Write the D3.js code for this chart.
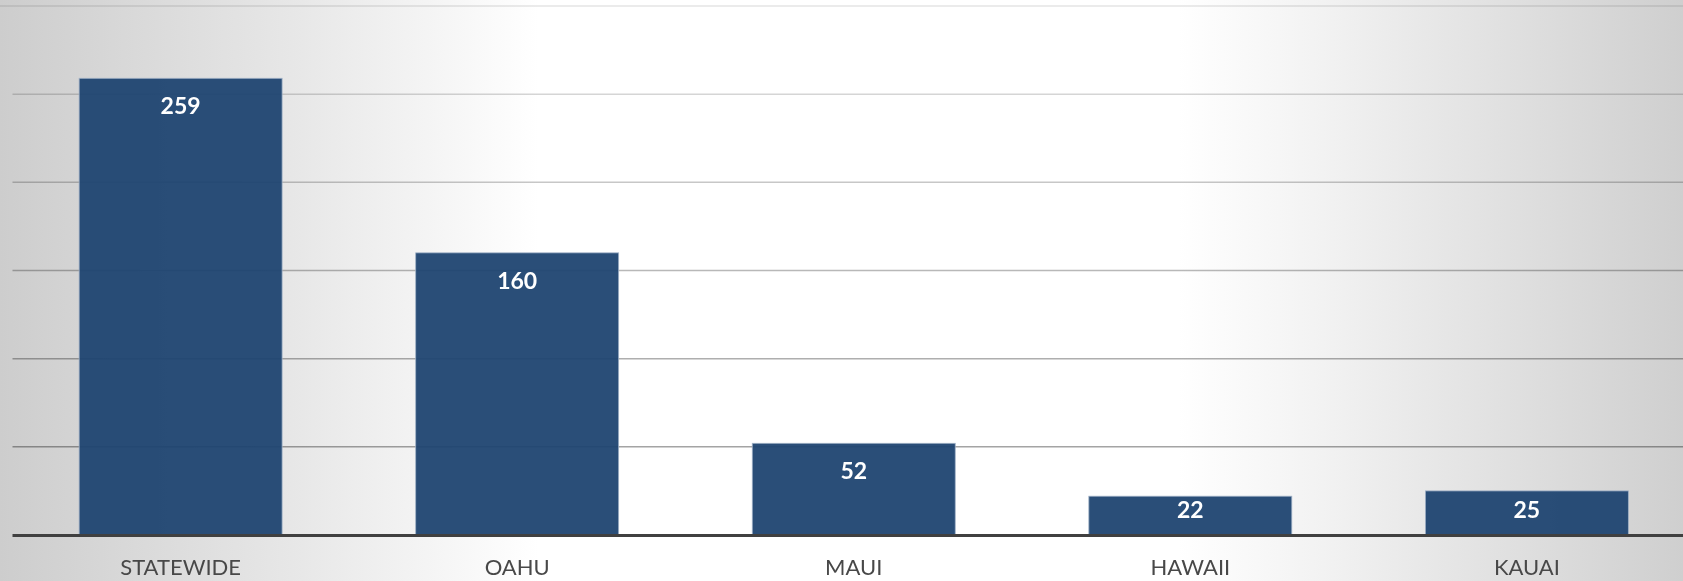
<!DOCTYPE html>
<html lang="en">
<head>
    <meta charset="UTF-8">
    <title>Counts by Island</title>
    <script src="https://d3js.org/d3.v7.min.js"></script>
    <style>
        body { margin: 0; overflow: hidden; }
        svg { display: block; }
    </style>
</head>
<body>

<div id="chart"></div>

<script>
    // chart data
    var categories = ["STATEWIDE", "OAHU", "MAUI", "HAWAII", "KAUAI"];
    var values = [259, 160, 52, 22, 25];
    var yTicks = [50, 100, 150, 200, 250, 300];

    var W = 1683, H = 581;
    var plot = {left: 12.5, right: 1695, top: 6, bottom: 535};

    var svg = d3.select("#chart")
        .append("svg")
        .attr("width", W)
        .attr("height", H);

    // background: white in the middle, grey toward the sides
    var defs = svg.append("defs");
    var grad = defs.append("linearGradient")
        .attr("id", "bg")
        .attr("x1", 0).attr("x2", 1).attr("y1", 0).attr("y2", 0);
    [[0, "#cdcdcd"], [0.18, "#e8e8e8"], [0.32, "#ffffff"], [0.70, "#ffffff"], [0.78, "#f3f3f3"], [1, "#cfcfcf"]]
        .forEach(function (s) {
            grad.append("stop").attr("offset", s[0]).attr("stop-color", s[1]);
        });

    svg.append("rect")
        .attr("width", W).attr("height", H)
        .attr("fill", "url(#bg)");

    var x = d3.scaleBand()
        .domain(categories)
        .range([plot.left, plot.right])
        .paddingInner(0.397)
        .paddingOuter(0.198);

    var y = d3.scaleLinear()
        .domain([0, 300])
        .range([plot.bottom, plot.top]);

    // gridlines, darker toward the bottom
    var gridColor = d3.scaleLinear().domain([300, 150, 50]).range(["#e4e4e4", "#b8b8b8", "#a4a4a4"]);
    svg.append("g")
        .selectAll("line")
        .data(yTicks)
        .enter()
        .append("line")
        .attr("x1", function (d) { return d === 300 ? 0 : plot.left; })
        .attr("x2", W)
        .attr("y1", function (d) { return y(d); })
        .attr("y2", function (d) { return y(d); })
        .attr("stroke", function (d) { return gridColor(d); })
        .attr("stroke-width", 1.5)
        .style("mix-blend-mode", "multiply");

    // bars
    svg.append("g")
        .selectAll("rect")
        .data(values)
        .enter()
        .append("rect")
        .attr("x", function (d, i) { return x(categories[i]); })
        .attr("y", function (d) { return y(d); })
        .attr("width", x.bandwidth())
        .attr("height", function (d) { return y(0) - y(d); })
        .attr("fill", "#1f4471")
        .attr("fill-opacity", 0.95)
        .attr("stroke", "#9fb0c6")
        .attr("stroke-width", 0.8);

    // value labels inside the bar end
    svg.append("g")
        .selectAll("text")
        .data(values)
        .enter()
        .append("text")
        .attr("x", function (d, i) { return x(categories[i]) + x.bandwidth() / 2; })
        .attr("y", function (d) { return Math.min(y(d) + 36, y(0) - 17); })
        .attr("text-anchor", "middle")
        .attr("fill", "#ffffff")
        .style("font-family", "Lato, 'Open Sans', sans-serif")
        .style("font-weight", "bold")
        .style("font-size", "23px")
        .text(function (d) { return d; });

    // x axis baseline
    svg.append("line")
        .attr("x1", plot.left).attr("x2", W)
        .attr("y1", y(0) + 0.5).attr("y2", y(0) + 0.5)
        .attr("stroke", "#404040")
        .attr("stroke-width", 3);

    // category labels
    svg.append("g")
        .selectAll("text")
        .data(categories)
        .enter()
        .append("text")
        .attr("x", function (d) { return x(d) + x.bandwidth() / 2; })
        .attr("y", 575)
        .attr("text-anchor", "middle")
        .attr("fill", "#484848")
        .style("font-family", "Lato, 'Open Sans', sans-serif")
        .style("font-weight", 400)
        .style("font-size", "22px")
        .text(function (d) { return d; });
</script>

</body>
</html>
